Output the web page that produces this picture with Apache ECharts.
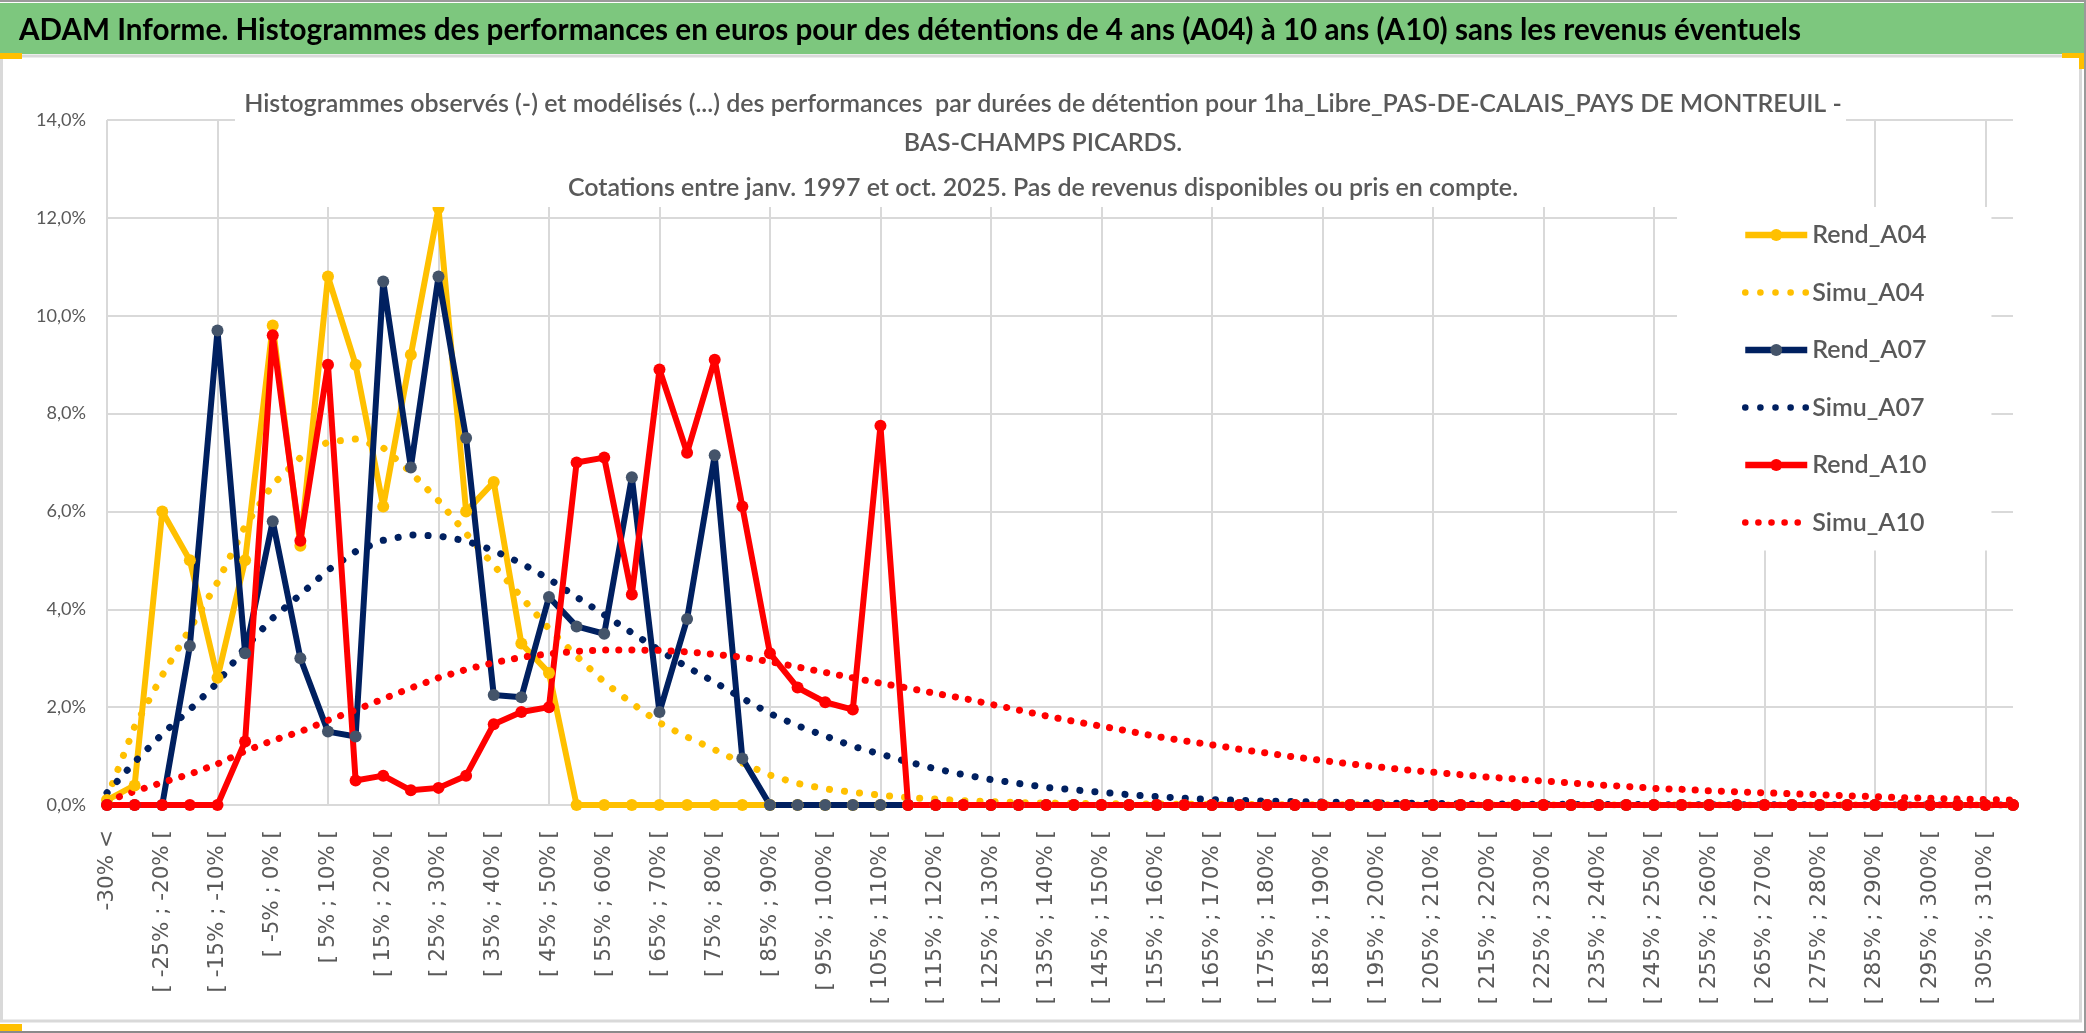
<!DOCTYPE html>
<html>
<head>
<meta charset="utf-8">
<title>ADAM Informe - histogrammes</title>
<script src="https://cdn.jsdelivr.net/npm/echarts@6/dist/echarts.min.js"></script>
<style>
  html, body { margin: 0; padding: 0; background: #fff; }
  #graphique { width: 2086px; height: 1033px; }
</style>
</head>
<body>
<div id="graphique"></div>
<script>
// classes de performance (pas de 5 %)
var categories = [
  '-30% <', '[ -30% ; -25% [', '[ -25% ; -20% [', '[ -20% ; -15% [', '[ -15% ; -10% [', '[ -10% ; -5% [', '[ -5% ; 0% [', '[ 0% ; 5% [', '[ 5% ; 10% [', '[ 10% ; 15% [',
  '[ 15% ; 20% [', '[ 20% ; 25% [', '[ 25% ; 30% [', '[ 30% ; 35% [', '[ 35% ; 40% [', '[ 40% ; 45% [', '[ 45% ; 50% [', '[ 50% ; 55% [', '[ 55% ; 60% [', '[ 60% ; 65% [',
  '[ 65% ; 70% [', '[ 70% ; 75% [', '[ 75% ; 80% [', '[ 80% ; 85% [', '[ 85% ; 90% [', '[ 90% ; 95% [', '[ 95% ; 100% [', '[ 100% ; 105% [', '[ 105% ; 110% [', '[ 110% ; 115% [',
  '[ 115% ; 120% [', '[ 120% ; 125% [', '[ 125% ; 130% [', '[ 130% ; 135% [', '[ 135% ; 140% [', '[ 140% ; 145% [', '[ 145% ; 150% [', '[ 150% ; 155% [', '[ 155% ; 160% [', '[ 160% ; 165% [',
  '[ 165% ; 170% [', '[ 170% ; 175% [', '[ 175% ; 180% [', '[ 180% ; 185% [', '[ 185% ; 190% [', '[ 190% ; 195% [', '[ 195% ; 200% [', '[ 200% ; 205% [', '[ 205% ; 210% [', '[ 210% ; 215% [',
  '[ 215% ; 220% [', '[ 220% ; 225% [', '[ 225% ; 230% [', '[ 230% ; 235% [', '[ 235% ; 240% [', '[ 240% ; 245% [', '[ 245% ; 250% [', '[ 250% ; 255% [', '[ 255% ; 260% [', '[ 260% ; 265% [',
  '[ 265% ; 270% [', '[ 270% ; 275% [', '[ 275% ; 280% [', '[ 280% ; 285% [', '[ 285% ; 290% [', '[ 290% ; 295% [', '[ 295% ; 300% [', '[ 300% ; 305% [', '[ 305% ; 310% [', '[ 310% ; 315% ['
];

// histogrammes observes (en %)
var rendA04 = [
  0.1, 0.4, 6.0, 5.0, 2.6, 5.0, 9.8, 5.3, 10.8, 9.0,
  6.1, 9.2, 12.2, 6.0, 6.6, 3.3, 2.7, 0, 0, 0,
  0, 0, 0, 0, 0, 0, 0, 0, 0, 0,
  0, 0, 0, 0, 0, 0, 0, 0, 0, 0,
  0, 0, 0, 0, 0, 0, 0, 0, 0, 0,
  0, 0, 0, 0, 0, 0, 0, 0, 0, 0,
  0, 0, 0, 0, 0, 0, 0, 0, 0, 0
];
var rendA07 = [
  0, 0, 0, 3.25, 9.7, 3.1, 5.8, 3.0, 1.5, 1.4,
  10.7, 6.9, 10.8, 7.5, 2.25, 2.2, 4.25, 3.65, 3.5, 6.7,
  1.9, 3.8, 7.15, 0.95, 0, 0, 0, 0, 0, 0,
  0, 0, 0, 0, 0, 0, 0, 0, 0, 0,
  0, 0, 0, 0, 0, 0, 0, 0, 0, 0,
  0, 0, 0, 0, 0, 0, 0, 0, 0, 0,
  0, 0, 0, 0, 0, 0, 0, 0, 0, 0
];
var rendA10 = [
  0, 0, 0, 0, 0, 1.3, 9.6, 5.4, 9.0, 0.5,
  0.6, 0.3, 0.35, 0.6, 1.65, 1.9, 2.0, 7.0, 7.1, 4.3,
  8.9, 7.2, 9.1, 6.1, 3.1, 2.4, 2.1, 1.95, 7.75, 0,
  0, 0, 0, 0, 0, 0, 0, 0, 0, 0,
  0, 0, 0, 0, 0, 0, 0, 0, 0, 0,
  0, 0, 0, 0, 0, 0, 0, 0, 0, 0,
  0, 0, 0, 0, 0, 0, 0, 0, 0, 0
];

// histogrammes modelises (en %)
var simuA04 = [
  0.15, 1.6, 2.65, 3.6, 4.55, 5.7, 6.55, 7.1, 7.42, 7.48,
  7.3, 6.8, 6.22, 5.55, 4.9, 4.25, 3.6, 3.04, 2.51, 2.08,
  1.68, 1.39, 1.13, 0.86, 0.61, 0.44, 0.33, 0.26, 0.2, 0.15,
  0.12, 0.09, 0.07, 0.05, 0.04, 0.035, 0.03, 0.025, 0.02, 0.015,
  0.012, 0.01, 0.008, 0.006, 0.005, 0.004, 0.003, 0.003, 0.002, 0.002,
  0.002, 0.001, 0.001, 0.001, 0.001, 0, 0, 0, 0, 0,
  0, 0, 0, 0, 0, 0, 0, 0, 0, 0
];
var simuA07 = [
  0.25, 0.88, 1.45, 1.95, 2.5, 3.22, 3.82, 4.3, 4.8, 5.18,
  5.41, 5.52, 5.5, 5.4, 5.2, 4.94, 4.62, 4.25, 3.89, 3.52,
  3.16, 2.82, 2.51, 2.18, 1.87, 1.62, 1.41, 1.2, 1.04, 0.88,
  0.74, 0.62, 0.52, 0.44, 0.36, 0.31, 0.26, 0.21, 0.17, 0.14,
  0.11, 0.095, 0.08, 0.07, 0.06, 0.05, 0.04, 0.035, 0.03, 0.025,
  0.02, 0.018, 0.015, 0.012, 0.01, 0.009, 0.008, 0.007, 0.006, 0.005,
  0.004, 0.004, 0.003, 0.003, 0.002, 0.002, 0.002, 0.001, 0.001, 0.001
];
var simuA10 = [
  0.08, 0.28, 0.46, 0.63, 0.84, 1.1, 1.32, 1.5, 1.73, 1.94,
  2.17, 2.39, 2.6, 2.77, 2.91, 3.02, 3.09, 3.14, 3.17, 3.17,
  3.16, 3.13, 3.08, 3.02, 2.93, 2.82, 2.71, 2.6, 2.49, 2.39,
  2.28, 2.18, 2.06, 1.94, 1.82, 1.71, 1.61, 1.51, 1.4, 1.31,
  1.23, 1.14, 1.06, 0.98, 0.91, 0.84, 0.78, 0.72, 0.67, 0.62,
  0.57, 0.53, 0.49, 0.45, 0.41, 0.38, 0.34, 0.32, 0.29, 0.27,
  0.25, 0.23, 0.21, 0.19, 0.17, 0.15, 0.14, 0.12, 0.11, 0.1
];

var nomsSeries = ['Rend_A04', 'Simu_A04', 'Rend_A07', 'Simu_A07', 'Rend_A10', 'Simu_A10'];

var titreBandeau = 'ADAM Informe. Histogrammes des performances en euros pour des détentions de 4 ans (A04) à 10 ans (A10) sans les revenus éventuels';
var titreLigne1 = 'Histogrammes observés (-) et modélisés (...) des performances  par durées de détention pour 1ha_Libre_PAS-DE-CALAIS_PAYS DE MONTREUIL -';
var titreLigne2 = 'BAS-CHAMPS PICARDS.';
var titreLigne3 = 'Cotations entre janv. 1997 et oct. 2025. Pas de revenus disponibles ou pris en compte.';

var POLICE = 'Lato, "Open Sans", sans-serif';
var GRIS = '#595959';
var GRILLE = '#d9d9d9';

// largeur d'un texte a 100px
function largeur100(texte, graisse, police) {
    var ctx = document.createElement('canvas').getContext('2d');
    ctx.font = graisse + ' 100px ' + police;
    return ctx.measureText(texte).width;
}

// taille de police pour qu'un texte occupe une largeur donnee
function tailleAjustee(texte, graisse, police, largeur) {
    return Math.round(1000 * largeur / largeur100(texte, graisse, police)) / 10;
}

var tTitre = tailleAjustee(titreLigne1, '600', POLICE, 1595);
var tLegende = tailleAjustee('Rend_A04', '600', POLICE, 114);
var tAxeY = tailleAjustee('14,0%', 'normal', POLICE, 50);
// bandeau : police haute, compressee en largeur comme du Calibri gras
var tBandeau = 31;
var compBandeau = 1782 / (largeur100(titreBandeau, 'bold', POLICE) * tBandeau / 100);

function serieObservee(nom, valeurs, couleurLigne, couleurPoint) {
    return {
        name: nom,
        type: 'line',
        data: valeurs,
        symbol: 'circle',
        symbolSize: 12,
        showAllSymbol: true,
        lineStyle: { color: couleurLigne, width: 6 },
        itemStyle: { color: couleurPoint },
        emphasis: { disabled: true }
    };
}

function serieModele(nom, valeurs, couleur, pas) {
    return {
        name: nom,
        type: 'line',
        data: valeurs,
        symbol: 'none',
        lineStyle: { color: couleur, width: 7, type: [0.1, pas], cap: 'round' },
        itemStyle: { color: couleur },
        emphasis: { disabled: true }
    };
}

function titre(texte, centreY) {
    return {
        text: texte,
        left: 'center',
        top: centreY - tTitre * 0.6,
        padding: 0,
        textStyle: {
            fontFamily: POLICE,
            fontSize: tTitre,
            fontWeight: 600,
            lineHeight: tTitre * 1.2,
            color: GRIS
        }
    };
}

// entrees de legende : pas de rond au milieu des pointilles
var donneesLegende = nomsSeries.map(function (nom) {
    if (nom.indexOf('Simu') === 0) {
        return { name: nom, itemStyle: { opacity: 0 } };
    }
    return { name: nom };
});

var myChart = echarts.init(document.getElementById('graphique'));

var option = {
    backgroundColor: '#ffffff',
    animation: false,
    title: [
        titre(titreLigne1, 104),
        titre(titreLigne2, 143),
        titre(titreLigne3, 188)
    ],
    graphic: [
        { type: 'rect', shape: { x: 0, y: 0, width: 2086, height: 2 }, style: { fill: '#9a9a9a' }, z: 1 },
        { type: 'rect', shape: { x: 0, y: 3, width: 2084, height: 51 }, style: { fill: '#7dc77e' }, z: 1 },
        { type: 'rect', shape: { x: 2084, y: 0, width: 2, height: 1033 }, style: { fill: '#9a9a9a' }, z: 1 },
        { type: 'rect', shape: { x: 1.5, y: 56, width: 2079, height: 965 }, style: { fill: 'none', stroke: GRILLE, lineWidth: 3 }, z: 1 },
        { type: 'rect', shape: { x: 0, y: 53, width: 22, height: 6 }, style: { fill: '#ffc000' }, z: 2 },
        { type: 'rect', shape: { x: 2062, y: 53, width: 22, height: 5 }, style: { fill: '#ffc000' }, z: 2 },
        { type: 'rect', shape: { x: 2079, y: 53, width: 5, height: 16 }, style: { fill: '#ffc000' }, z: 2 },
        { type: 'rect', shape: { x: 0, y: 1024, width: 22, height: 7 }, style: { fill: '#ffc000' }, z: 2 },
        { type: 'rect', shape: { x: 0, y: 1031, width: 2086, height: 2 }, style: { fill: '#8a8a8a' }, z: 1 },
        {
            type: 'text', x: 19, y: 30, scaleX: compBandeau, z: 3,
            style: { text: titreBandeau, fill: '#000000', font: 'bold ' + tBandeau + 'px ' + POLICE, verticalAlign: 'middle' }
        },
        // cadre blanc du titre, au-dessus du quadrillage
        { type: 'rect', shape: { x: 235, y: 82, width: 1611, height: 125 }, style: { fill: '#ffffff' }, z: 5 }
    ],
    legend: {
        data: donneesLegende,
        orient: 'vertical',
        left: 1677,
        top: 207,
        padding: [13, 65, 13, 65],
        backgroundColor: '#ffffff',
        itemWidth: 62,
        itemHeight: 15,
        itemGap: 27.5,
        lineStyle: { width: 6.5 },
        textStyle: { fontFamily: POLICE, fontSize: tLegende, fontWeight: 600, lineHeight: 30, color: GRIS }
    },
    grid: { left: 107, right: 73, top: 120, bottom: 228 },
    xAxis: {
        type: 'category',
        data: categories,
        boundaryGap: false,
        axisLine: { lineStyle: { color: GRILLE, width: 2 } },
        axisTick: { show: false },
        axisLabel: {
            interval: 1,
            rotate: 90,
            margin: 25,
            fontFamily: '"DejaVu Sans", sans-serif',
            fontSize: 21.5,
            color: GRIS
        },
        splitLine: { show: true, interval: 3, lineStyle: { color: GRILLE, width: 2 } }
    },
    yAxis: {
        type: 'value',
        min: 0,
        max: 14,
        interval: 2,
        axisLine: { show: false },
        axisTick: { show: false },
        axisLabel: {
            margin: 21,
            fontFamily: POLICE,
            fontSize: tAxeY,
            color: GRIS,
            formatter: function (v) { return v.toFixed(1).replace('.', ',') + '%'; }
        },
        splitLine: { lineStyle: { color: GRILLE, width: 2 } }
    },
    series: [
        serieObservee('Rend_A04', rendA04, '#ffc000', '#ffc000'),
        serieModele('Simu_A04', simuA04, '#ffc000', 15),
        serieObservee('Rend_A07', rendA07, '#002060', '#44546a'),
        serieModele('Simu_A07', simuA07, '#002060', 15),
        serieObservee('Rend_A10', rendA10, '#ff0000', '#ff0000'),
        serieModele('Simu_A10', simuA10, '#ff0000', 13)
    ]
};

myChart.setOption(option);
</script>
</body>
</html>
